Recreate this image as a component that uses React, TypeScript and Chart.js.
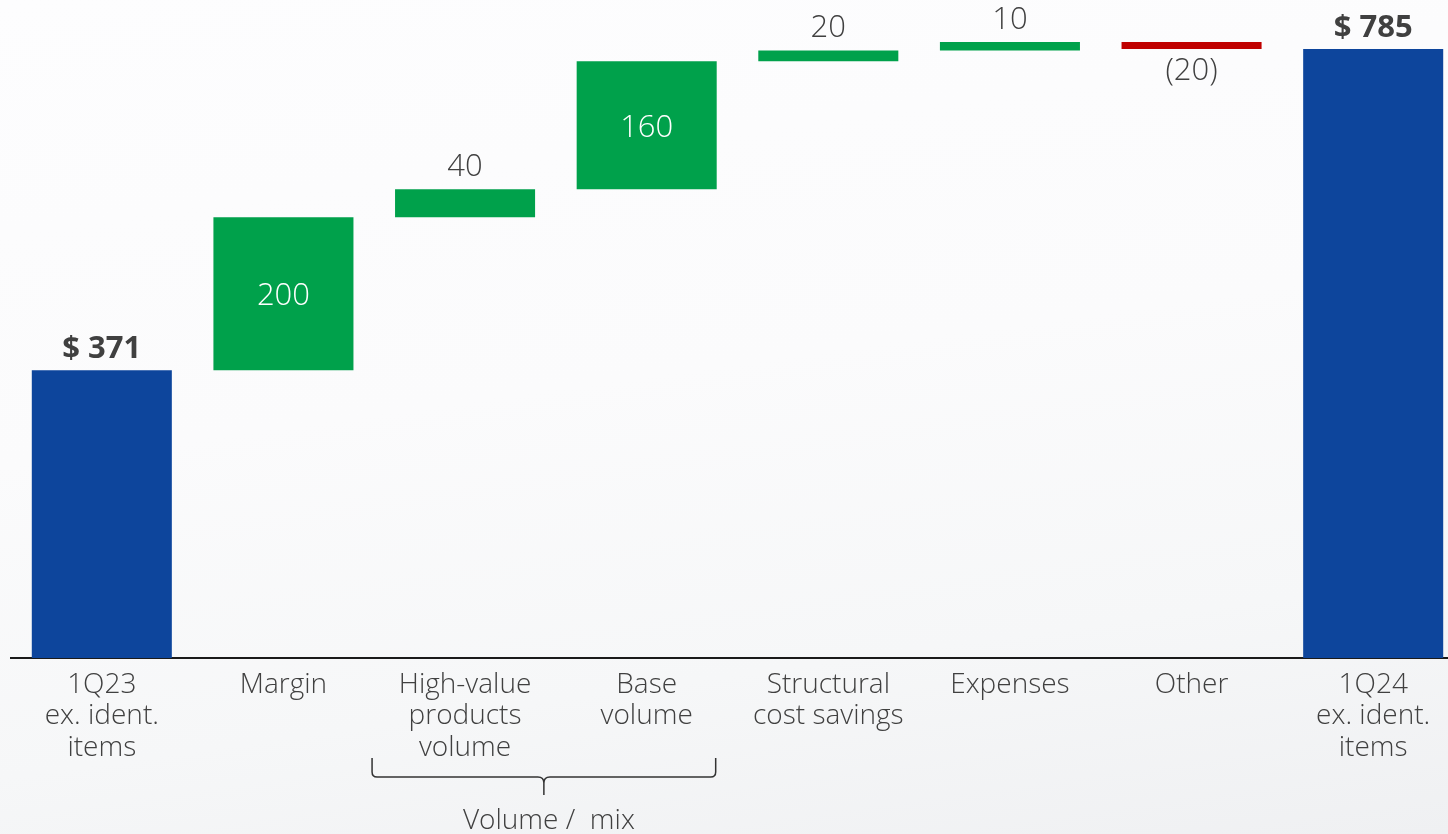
import React, { useEffect, useRef } from "react";
import { Chart, registerables } from "chart.js";

Chart.register(...registerables);

const categories: string[][] = [
  ["1Q23", "ex. ident.", "items"],
  ["Margin"],
  ["High-value", "products", "volume"],
  ["Base", "volume"],
  ["Structural", "cost savings"],
  ["Expenses"],
  ["Other"],
  ["1Q24", "ex. ident.", "items"],
];
const steps: number[] = [371, 197, 36, 165, 14, 11, -9, 785];
const isTotal: boolean[] = [true, false, false, false, false, false, false, true];
const valueLabels: string[] = ["$ 371", "200", "40", "160", "20", "10", "(20)", "$ 785"];
const groupLabel = "Volume /  mix";
const groupRange: number[] = [2, 3];

const BLUE = "#0D459C";
const GREEN = "#00A14B";
const RED = "#C00000";
const TEXT = "#404040";
const FONT = "'Open Sans', 'Noto Sans', sans-serif";

function buildRanges(): number[][] {
  const out: number[][] = [];
  let running = 0;
  steps.forEach((s, i) => {
    if (isTotal[i]) {
      out.push([0, s]);
      running = s;
    } else {
      out.push([running, running + s]);
      running += s;
    }
  });
  return out;
}

const labelPlugin = {
  id: "wfLabels",
  afterDatasetsDraw(chart: any) {
    const ctx = chart.ctx;
    const meta = chart.getDatasetMeta(0);
    const ranges = chart.data.datasets[0].data as number[][];
    ctx.save();
    ctx.textAlign = "center";
    ctx.textBaseline = "alphabetic";
    meta.data.forEach((bar: any, i: number) => {
      const r = ranges[i];
      const yTop = chart.scales.y.getPixelForValue(Math.max(r[0], r[1]));
      const yBot = chart.scales.y.getPixelForValue(Math.min(r[0], r[1]));
      const h = yBot - yTop;
      const x = bar.x;
      const txt = valueLabels[i];
      if (isTotal[i]) {
        ctx.font = `700 31px ${FONT}`;
        ctx.fillStyle = TEXT;
        ctx.fillText(txt, x, yTop - 12);
      } else if (h > 60) {
        ctx.font = `300 31px ${FONT}`;
        ctx.fillStyle = "#ffffff";
        ctx.fillText(txt, x, (yTop + yBot) / 2 + 11.5);
      } else if (steps[i] >= 0) {
        ctx.font = `300 31px ${FONT}`;
        ctx.fillStyle = TEXT;
        ctx.fillText(txt, x, yTop - 13);
      } else {
        ctx.font = `300 31px ${FONT}`;
        ctx.fillStyle = TEXT;
        ctx.fillText(txt, x, yBot + 31);
      }
    });

    // bracket below grouped categories
    const xs = chart.scales.x;
    const left = xs.getPixelForValue(groupRange[0]) - 93;
    const right = xs.getPixelForValue(groupRange[1]) + 69;
    const c = (left + right) / 2;
    const yTopB = 758;
    const yH = 777;
    const yTip = 795;
    ctx.strokeStyle = "#333333";
    ctx.lineWidth = 1.5;
    ctx.beginPath();
    ctx.moveTo(left, yTopB);
    ctx.lineTo(left, yH - 5);
    ctx.quadraticCurveTo(left, yH, left + 5, yH);
    ctx.lineTo(c - 6, yH);
    ctx.quadraticCurveTo(c, yH, c, yH + 6);
    ctx.lineTo(c, yTip);
    ctx.moveTo(c, yH + 6);
    ctx.quadraticCurveTo(c, yH, c + 6, yH);
    ctx.lineTo(right - 5, yH);
    ctx.quadraticCurveTo(right, yH, right, yH - 5);
    ctx.lineTo(right, yTopB);
    ctx.stroke();
    ctx.font = `300 28px ${FONT}`;
    ctx.fillStyle = TEXT;
    ctx.fillText(groupLabel, c + 5, 829);
    ctx.restore();
  },
};

export default function App() {
  const ref = useRef<HTMLCanvasElement | null>(null);
  useEffect(() => {
    if (!ref.current) return;
    const ranges = buildRanges();
    const colors = steps.map((s, i) => (isTotal[i] ? BLUE : s >= 0 ? GREEN : RED));
    const chart = new Chart(ref.current, {
      type: "bar",
      data: {
        labels: categories,
        datasets: [
          {
            data: ranges as any,
            backgroundColor: colors,
            borderWidth: 0,
            borderSkipped: false,
            categoryPercentage: 1,
            barPercentage: 0.771,
          },
        ],
      },
      options: {
        responsive: false,
        animation: false,
        devicePixelRatio: 1,
        layout: { padding: { left: 11, right: 0, top: 0, bottom: 0 } },
        plugins: { legend: { display: false }, tooltip: { enabled: false } },
        scales: {
          x: {
            grid: { display: false, drawTicks: false },
            border: { display: true, color: "#1a1a1a", width: 2 },
            ticks: {
              color: TEXT,
              padding: 11,
              maxRotation: 0,
              autoSkip: false,
              font: { family: FONT, size: 28, weight: "300" as any, lineHeight: 1.13 },
            },
            afterFit: (s: any) => {
              s.height = 176;
            },
          },
          y: { display: false, min: 0, max: 848 },
        },
      },
      plugins: [labelPlugin],
    });
    return () => chart.destroy();
  }, []);
  return (
    <div
      style={{
        position: "fixed",
        left: 0,
        top: 0,
        width: 1448,
        height: 834,
        overflow: "hidden",
        background:
          "linear-gradient(172deg, #fdfdfe 0%, #fbfbfc 45%, #f6f7f8 75%, #eff0f2 100%)",
      }}
    >
      <canvas ref={ref} width={1464} height={834} style={{ display: "block" }} />
    </div>
  );
}
